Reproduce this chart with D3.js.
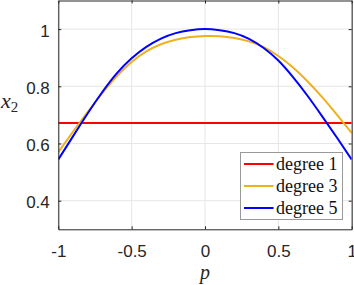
<!DOCTYPE html>
<html>
<head>
<meta charset="utf-8">
<script src="https://cdn.jsdelivr.net/npm/d3@7"></script>
</head>
<body style="margin:0">
<script>
// sampled p values (x axis)
const pValues = [-1, -0.9, -0.8, -0.7, -0.6, -0.5, -0.4, -0.3, -0.2, -0.1, 0,
                 0.1, 0.2, 0.3, 0.4, 0.5, 0.6, 0.7, 0.8, 0.9, 1];

// degree 1 fit (flat line)
const deg1P = [-1, 1];
const deg1Values = [0.672, 0.672];

// degree 3 fit
const deg3Values = [0.570, 0.641, 0.710, 0.776, 0.836, 0.885, 0.922, 0.947, 0.963, 0.972, 0.976,
                    0.975, 0.969, 0.957, 0.937, 0.906, 0.866, 0.817, 0.761, 0.700, 0.637];

// degree 5 fit
const deg5Values = [0.544, 0.625, 0.705, 0.780, 0.846, 0.898, 0.938, 0.967, 0.986, 0.996, 1.000,
                    0.996, 0.986, 0.966, 0.934, 0.890, 0.832, 0.766, 0.694, 0.620, 0.544];

const xTicks = [-1, -0.5, 0, 0.5, 1];
const yTicks = [0.4, 0.6, 0.8, 1];
const legendLabels = ['degree 1', 'degree 3', 'degree 5'];
const lineColors = ['#ff0000', '#edb120', '#0000ff'];

const width = 354, height = 285;
const margin = {top: 0.5, right: 2.3, bottom: 55.7, left: 58.3};

const svg = d3.select('body').append('svg')
    .attr('width', width)
    .attr('height', height)
    .style('display', 'block');

const x = d3.scaleLinear().domain([-1, 1]).range([margin.left, width - margin.right]);
const y = d3.scaleLinear().domain([0.3, 1.1]).range([height - margin.bottom, margin.top]);

// grid
svg.append('g').selectAll('line.gx')
    .data(xTicks)
    .enter().append('line')
    .attr('x1', d => x(d)).attr('x2', d => x(d))
    .attr('y1', y(0.3)).attr('y2', y(1.1))
    .attr('stroke', '#e6e6e6').attr('stroke-width', 1);

svg.append('g').selectAll('line.gy')
    .data(yTicks)
    .enter().append('line')
    .attr('x1', x(-1)).attr('x2', x(1))
    .attr('y1', d => y(d)).attr('y2', d => y(d))
    .attr('stroke', '#e6e6e6').attr('stroke-width', 1);

// curves
svg.append('clipPath').attr('id', 'clip')
    .append('rect')
    .attr('x', x(-1)).attr('y', y(1.1))
    .attr('width', x(1) - x(-1)).attr('height', y(0.3) - y(1.1));

const series = [
    deg1P.map((p, i) => [p, deg1Values[i]]),
    pValues.map((p, i) => [p, deg3Values[i]]),
    pValues.map((p, i) => [p, deg5Values[i]])
];

const line = d3.line()
    .x(d => x(d[0]))
    .y(d => y(d[1]))
    .curve(d3.curveNatural);

svg.append('g').attr('clip-path', 'url(#clip)')
    .selectAll('path')
    .data(series)
    .enter().append('path')
    .attr('d', line)
    .attr('fill', 'none')
    .attr('stroke', (d, i) => lineColors[i])
    .attr('stroke-width', 2);

// axes (box with inward ticks)
const axisColor = '#262626';

const xAxisB = d3.axisBottom(x).tickValues(xTicks).tickSizeInner(-3).tickSizeOuter(0).tickPadding(15.4)
    .tickFormat(d => d3.format('')(d).replace('−', '-'));
const xAxisT = d3.axisTop(x).tickValues(xTicks).tickSizeInner(-3).tickSizeOuter(0).tickFormat('');
const yAxisL = d3.axisLeft(y).tickValues(yTicks).tickSizeInner(-3).tickSizeOuter(0).tickPadding(8.5)
    .tickFormat(d => d3.format('')(d));
const yAxisR = d3.axisRight(y).tickValues(yTicks).tickSizeInner(-3).tickSizeOuter(0).tickFormat('');

function styleAxis(g) {
    g.select('.domain').attr('stroke', axisColor);
    g.selectAll('.tick line').attr('stroke', axisColor);
    g.selectAll('.tick text')
        .attr('fill', '#262626')
        .attr('font-family', 'Liberation Sans')
        .attr('font-size', 17);
    g.attr('font-family', null).attr('font-size', null);
}

svg.append('g').attr('transform', `translate(0,${y(0.3)})`).call(xAxisB).call(styleAxis);
svg.append('g').attr('transform', `translate(0,${y(1.1)})`).call(xAxisT).call(styleAxis);
svg.append('g').attr('transform', `translate(${x(-1)},0)`).call(yAxisL).call(styleAxis)
    .selectAll('.tick text').attr('dy', '0.42em');
svg.append('g').attr('transform', `translate(${x(1)},0)`).call(yAxisR).call(styleAxis);

// axis labels
svg.append('text')
    .attr('x', x(0))
    .attr('y', 279)
    .attr('text-anchor', 'middle')
    .attr('font-family', 'Liberation Serif')
    .attr('font-style', 'italic')
    .attr('font-size', 20)
    .attr('fill', '#262626')
    .text('p');

const ylab = svg.append('text')
    .attr('x', 1)
    .attr('y', 108)
    .attr('font-family', 'Liberation Serif')
    .attr('fill', '#262626');
ylab.append('tspan').attr('font-style', 'italic').attr('font-size', 22).text('x');
ylab.append('tspan').attr('dy', 4).attr('font-size', 15).text('2');

// legend
const legend = svg.append('g');
legend.append('rect')
    .attr('x', 240.5).attr('y', 152.5)
    .attr('width', 102).attr('height', 67)
    .attr('fill', '#fff')
    .attr('stroke', '#999')
    .attr('stroke-width', 1);

const legendItem = legend.selectAll('g.item')
    .data(legendLabels)
    .enter().append('g')
    .attr('transform', (d, i) => `translate(0,${164 + i * 22})`);

legendItem.append('line')
    .attr('x1', 244).attr('x2', 273.5)
    .attr('y1', 0).attr('y2', 0)
    .attr('stroke', (d, i) => lineColors[i])
    .attr('stroke-width', 2);

legendItem.append('text')
    .attr('x', 276)
    .attr('y', 5.5)
    .attr('font-family', 'Liberation Serif')
    .attr('font-size', 18)
    .attr('fill', '#111')
    .text(d => d);
</script>
</body>
</html>
